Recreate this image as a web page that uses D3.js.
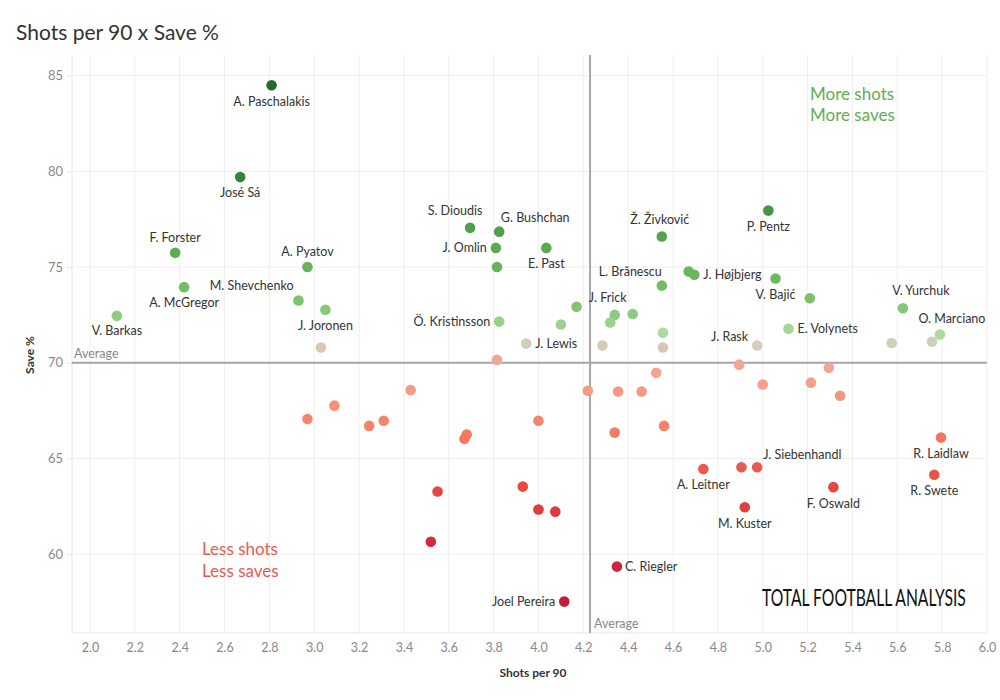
<!DOCTYPE html>
<html>
<head>
<meta charset="utf-8">
<script src="https://cdn.jsdelivr.net/npm/d3@7"></script>
<style>
  html, body { margin: 0; padding: 0; background: #fff; }
  svg { display: block; }
  text { font-family: Lato, "Open Sans", sans-serif; }
</style>
</head>
<body>
<svg id="chart" width="1000" height="700"></svg>
<script>
// ---- DATA ----
const players = [
  "A. Paschalakis", "José Sá", "F. Forster", "A. McGregor", "V. Barkas", "A. Pyatov", "M. Shevchenko", "J. Joronen", "",
  "S. Dioudis", "G. Bushchan", "J. Omlin", "E. Past", "", "L. Brănescu", "Ž. Živković", "", "", "Ö. Kristinsson",
  "J. Frick", "", "", "", "", "J. Lewis", "", "", "", "J. Højbjerg", "P. Pentz", "V. Bajić", "", "V. Yurchuk",
  "E. Volynets", "J. Rask", "", "", "O. Marciano",
  "", "", "", "", "", "", "", "", "", "", "", "", "", "", "", "", "", "", "", "C. Riegler", "Joel Pereira",
  "", "", "", "", "", "R. Laidlaw", "R. Swete", "A. Leitner", "", "J. Siebenhandl", "F. Oswald", "M. Kuster"
];
const shotsPer90 = [
  2.81, 2.67, 2.38, 2.42, 2.12, 2.97, 2.93, 3.05, 3.03,
  3.695, 3.825, 3.81, 4.035, 3.815, 4.55, 4.55, 4.17, 4.10, 3.825,
  4.34, 4.42, 4.32, 4.555, 4.555, 3.945, 4.285, 3.815, 4.67, 4.695, 5.025, 5.057, 5.21, 5.625,
  5.115, 4.975, 5.575, 5.755, 5.79,
  3.43, 3.09, 2.97, 3.245, 3.31, 3.68, 3.67, 4.0, 4.22, 4.355, 4.46, 4.525, 4.34, 4.56, 3.55, 3.93, 4.0, 4.075, 3.52, 4.35, 4.115,
  4.895, 5.0, 5.215, 5.295, 5.345, 5.795, 5.765, 4.735, 4.905, 4.975, 5.315, 4.92
];
const savePct = [
  84.5, 79.7, 75.75, 73.95, 72.45, 75.0, 73.25, 72.77, 70.8,
  77.05, 76.85, 76.0, 76.0, 75.0, 74.03, 76.6, 72.93, 72.0, 72.15,
  72.5, 72.55, 72.1, 71.57, 70.8, 71.0, 70.9, 70.15, 74.77, 74.6, 77.95, 74.4, 73.37, 72.85,
  71.78, 70.9, 71.03, 71.1, 71.47,
  68.58, 67.76, 67.06, 66.7, 66.97, 66.25, 66.03, 66.97, 68.54, 68.5, 68.5, 69.48, 66.35, 66.7, 63.27, 63.53, 62.33, 62.22, 60.65, 59.35, 57.52,
  69.9, 68.86, 68.96, 69.74, 68.28, 66.09, 64.15, 64.45, 64.54, 64.54, 63.5, 62.45
];
const avgShots = 4.23;
const avgSave = 70.0;
const xTicks = [2.0, 2.2, 2.4, 2.6, 2.8, 3.0, 3.2, 3.4, 3.6, 3.8, 4.0, 4.2, 4.4, 4.6, 4.8, 5.0, 5.2, 5.4, 5.6, 5.8, 6.0];
const yTicks = [60, 65, 70, 75, 80, 85];

// ---- LAYOUT / STYLE ----
const labelPlacement = {
  "A. Paschalakis": ["middle", 0, 16], "José Sá": ["middle", 0, 15], "F. Forster": ["middle", 0, -15],
  "A. McGregor": ["middle", 0, 15], "V. Barkas": ["middle", 0, 15], "A. Pyatov": ["middle", 0, -16],
  "M. Shevchenko": ["end", -5, -15], "J. Joronen": ["middle", 0, 16], "S. Dioudis": ["middle", -15, -17],
  "G. Bushchan": ["middle", 36, -14], "J. Omlin": ["end", -9, 0], "E. Past": ["middle", 0, 16],
  "Ö. Kristinsson": ["end", -9, 0], "J. Lewis": ["start", 9, 0], "J. Frick": ["middle", -7, -17],
  "Ž. Živković": ["middle", -2, -17], "L. Brănescu": ["end", 0, -14], "J. Højbjerg": ["start", 9, 0],
  "P. Pentz": ["middle", 0, 16], "V. Bajić": ["middle", 0, 16], "V. Yurchuk": ["middle", 18, -18],
  "E. Volynets": ["start", 9, 0], "J. Rask": ["end", -9, -9], "O. Marciano": ["middle", 12, -16],
  "J. Siebenhandl": ["start", 6, -13], "A. Leitner": ["middle", 0, 16], "M. Kuster": ["middle", 0, 16],
  "F. Oswald": ["middle", 0, 16], "R. Laidlaw": ["middle", 0, 16], "R. Swete": ["middle", 0, 16],
  "C. Riegler": ["start", 8, 0], "Joel Pereira": ["end", -9, 0]
};

const svg = d3.select("#chart");
const plot = { left: 72, right: 987, top: 55, bottom: 633 };

const x = d3.scaleLinear().domain([1.92, 6.0]).range([plot.left, plot.right]);
const y = d3.scaleLinear().domain([55.88, 86.08]).range([plot.bottom, plot.top]);

const color = d3.scaleLinear()
  .domain([57.5, 60.6, 63.5, 66.5, 69.0, 70.2, 70.95, 71.6, 73.0, 75.0, 77.0, 80.0, 84.5])
  .range(["#c51b3a", "#d2293b", "#e6483f", "#f47f66", "#f6a08c", "#f0a898", "#d3cfbd", "#aad99c",
          "#80c46f", "#66b35a", "#4f9e48", "#33803a", "#256b2c"])
  .clamp(true);

// title
svg.append("text").attr("x", 16).attr("y", 40).attr("font-size", 21).attr("fill", "#333")
  .text("Shots per 90 x Save %");

// gridlines
const g = svg.append("g");
g.selectAll(".vg").data(xTicks).join("line")
  .attr("x1", d => x(d)).attr("x2", d => x(d)).attr("y1", plot.top).attr("y2", plot.bottom)
  .attr("stroke", "#efefef").attr("stroke-width", 1);
g.selectAll(".hg").data(yTicks).join("line")
  .attr("x1", plot.left).attr("x2", plot.right).attr("y1", d => y(d)).attr("y2", d => y(d))
  .attr("stroke", "#efefef").attr("stroke-width", 1);
g.append("line").attr("x1", plot.left).attr("x2", plot.left).attr("y1", plot.top).attr("y2", plot.bottom)
  .attr("stroke", "#e6e6e6");
g.append("line").attr("x1", plot.left).attr("x2", plot.right).attr("y1", plot.bottom).attr("y2", plot.bottom)
  .attr("stroke", "#e6e6e6");

// axes
const xAxis = d3.axisBottom(x).tickValues(xTicks).tickFormat(d3.format(".1f")).tickSize(0).tickPadding(10);
const xa = svg.append("g").attr("transform", `translate(0,${plot.bottom})`).call(xAxis);
xa.select(".domain").remove();
xa.selectAll("text").attr("font-size", 12.5).attr("fill", "#888").attr("font-family", "Lato, sans-serif");

const yAxis = d3.axisLeft(y).tickValues(yTicks).tickSize(5).tickPadding(4);
const ya = svg.append("g").attr("transform", `translate(${plot.left},0)`).call(yAxis);
ya.select(".domain").remove();
ya.selectAll("line").attr("stroke", "#e6e6e6");
ya.selectAll("text").attr("font-size", 13).attr("fill", "#888").attr("font-family", "Lato, sans-serif");

// axis titles
svg.append("text").attr("x", 533).attr("y", 677).attr("text-anchor", "middle")
  .attr("font-size", 12).attr("font-weight", "bold").attr("fill", "#333").text("Shots per 90");
svg.append("text").attr("transform", "translate(34,355) rotate(-90)").attr("text-anchor", "middle")
  .attr("font-size", 12).attr("font-weight", "bold").attr("fill", "#333").text("Save %");

// average lines
svg.append("line").attr("x1", plot.left).attr("x2", plot.right).attr("y1", y(avgSave)).attr("y2", y(avgSave))
  .attr("stroke", "#a6a6a6").attr("stroke-width", 2);
svg.append("line").attr("x1", x(avgShots)).attr("x2", x(avgShots)).attr("y1", plot.top).attr("y2", plot.bottom)
  .attr("stroke", "#a6a6a6").attr("stroke-width", 2);
svg.append("text").attr("x", plot.left + 2).attr("y", y(avgSave) - 5).attr("font-size", 12.5).attr("fill", "#888").text("Average");
svg.append("text").attr("x", x(avgShots) + 4).attr("y", plot.bottom - 5).attr("font-size", 12.5).attr("fill", "#888").text("Average");

// quadrant texts
svg.append("text").attr("x", 810).attr("y", 100).attr("font-size", 17).attr("fill", "#5fae4f").text("More shots");
svg.append("text").attr("x", 810).attr("y", 121).attr("font-size", 17).attr("fill", "#5fae4f").text("More saves");
svg.append("text").attr("x", 202).attr("y", 555).attr("font-size", 17).attr("fill", "#ec5a4c").text("Less shots");
svg.append("text").attr("x", 202).attr("y", 577).attr("font-size", 17).attr("fill", "#ec5a4c").text("Less saves");

// points
const data = players.map((n, i) => ({ name: n, sx: shotsPer90[i], sv: savePct[i] }));
svg.append("g").selectAll("circle").data(data).join("circle")
  .attr("cx", d => x(d.sx)).attr("cy", d => y(d.sv)).attr("r", 5.3)
  .attr("fill", d => color(d.sv));

// labels
svg.append("g").selectAll("text").data(data.filter(d => d.name && labelPlacement[d.name])).join("text")
  .attr("x", d => x(d.sx) + labelPlacement[d.name][1])
  .attr("y", d => y(d.sv) + labelPlacement[d.name][2])
  .attr("text-anchor", d => labelPlacement[d.name][0])
  .attr("dominant-baseline", "central")
  .attr("font-size", 12.5).attr("fill", "#333")
  .text(d => d.name);

// logo (scaled to fit its box)
const logo = svg.append("g");
const logoText = logo.append("text").attr("x", 0).attr("y", 0).attr("font-size", 24)
  .attr("font-family", "'DejaVu Sans Condensed', 'Liberation Sans Narrow', sans-serif")
  .attr("fill", "#111")
  .text("TOTAL FOOTBALL ANALYSIS");
const natW = logoText.node().getComputedTextLength();
const sx = 204 / natW;
logo.attr("transform", `translate(762,606) scale(${sx},1)`);
</script>
</body>
</html>
